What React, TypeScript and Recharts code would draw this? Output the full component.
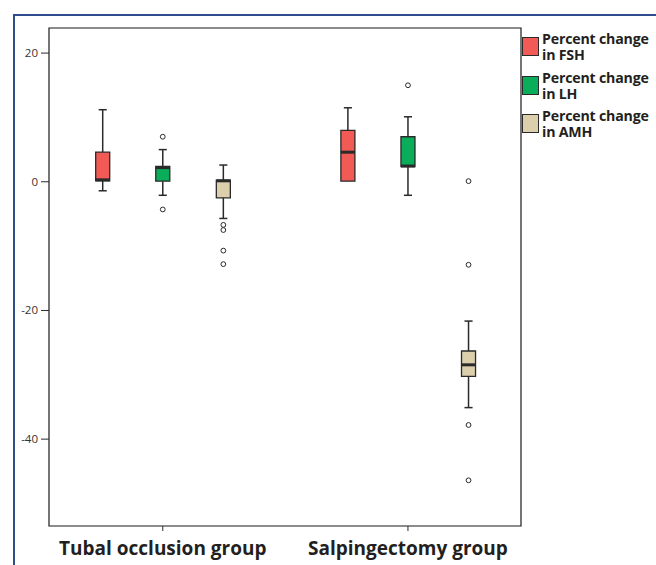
import React from 'react';
import { ComposedChart, XAxis, YAxis, Scatter, ReferenceArea, ReferenceLine } from 'recharts';

// ---- data ----
const groups = ['Tubal occlusion group', 'Salpingectomy group'];
const groupX = [1, 2];
const seriesNames = ['Percent change in FSH', 'Percent change in LH', 'Percent change in AMH'];
const legendLines = [
  ['Percent change', 'in FSH'],
  ['Percent change', 'in LH'],
  ['Percent change', 'in AMH'],
];
const seriesColors = ['#f25a55', '#0aae5a', '#dccfac'];
const yTicks = [-40, -20, 0, 20];

// [min, q1, median, q3, max] per group
const fshBoxes = [
  [-1.4, 0.15, 0.3, 4.6, 11.2],
  [0.1, 0.1, 4.6, 8.0, 11.5],
];
const lhBoxes = [
  [-2.1, 0.1, 2.2, 2.4, 5.0],
  [-2.1, 2.35, 2.45, 7.0, 10.1],
];
const amhBoxes = [
  [-5.7, -2.5, 0.15, 0.25, 2.6],
  [-35.1, -30.25, -28.45, -26.3, -21.65],
];
const fshOutliers = [[], []];
const lhOutliers = [[7.0, -4.3], [15.0]];
const amhOutliers = [[-6.7, -7.5, -10.7, -12.8], [0.1, -12.9, -37.8, -46.4]];

const allBoxes = [fshBoxes, lhBoxes, amhBoxes];
const allOutliers = [fshOutliers, lhOutliers, amhOutliers];

// ---- layout constants ----
const W = 656;
const H = 565;
const X_DOMAIN: [number, number] = [0.536, 2.461];
const Y_DOMAIN: [number, number] = [-53.5, 23.9];
const OFFSETS = [-0.245, 0, 0.247];
const BOX_HALF = 0.0286;
const CAP_HALF = 0.0165;
const INK = '#2a2a2a';

const XTick = (props: any) => {
  const { x, y, payload } = props;
  const idx = groupX.indexOf(payload.value);
  return (
    <text
      x={x}
      y={y + 22}
      textAnchor="middle"
      fontFamily="'Open Sans', sans-serif"
      fontWeight={700}
      fontSize={19}
      fill="#231f20"
    >
      {groups[idx]}
    </text>
  );
};

const YTick = (props: any) => {
  const { x, y, payload } = props;
  return (
    <text x={x} y={y} dy="0.35em" textAnchor="end" fontFamily="'Open Sans', sans-serif" fontSize={11.5} fill="#333333">
      {payload.value}
    </text>
  );
};

export default function App() {
  const elements: React.ReactNode[] = [];
  allBoxes.forEach((boxes, s) => {
    boxes.forEach((b, g) => {
      const cx = groupX[g] + OFFSETS[s];
      const [mn, q1, md, q3, mx] = b;
      const k = `${s}-${g}`;
      if (mx > q3) {
        elements.push(
          <ReferenceLine key={`wu${k}`} segment={[{ x: cx, y: q3 }, { x: cx, y: mx }]} stroke={INK} strokeWidth={1.5} />,
          <ReferenceLine key={`cu${k}`} segment={[{ x: cx - CAP_HALF, y: mx }, { x: cx + CAP_HALF, y: mx }]} stroke={INK} strokeWidth={1.5} />
        );
      }
      if (mn < q1) {
        elements.push(
          <ReferenceLine key={`wl${k}`} segment={[{ x: cx, y: mn }, { x: cx, y: q1 }]} stroke={INK} strokeWidth={1.5} />,
          <ReferenceLine key={`cl${k}`} segment={[{ x: cx - CAP_HALF, y: mn }, { x: cx + CAP_HALF, y: mn }]} stroke={INK} strokeWidth={1.5} />
        );
      }
      elements.push(
        <ReferenceArea
          key={`b${k}`}
          x1={cx - BOX_HALF}
          x2={cx + BOX_HALF}
          y1={q1}
          y2={q3}
          fill={seriesColors[s]}
          fillOpacity={1}
          stroke={INK}
          strokeWidth={1.3}
        />,
        <ReferenceLine
          key={`m${k}`}
          segment={[{ x: cx - BOX_HALF, y: md }, { x: cx + BOX_HALF, y: md }]}
          stroke={INK}
          strokeWidth={3}
        />
      );
    });
  });

  const outlierData = allOutliers.map((perGroup, s) =>
    perGroup.flatMap((vals, g) => vals.map((v) => ({ x: groupX[g] + OFFSETS[s], y: v })))
  );

  return (
    <div style={{ position: 'absolute', left: 0, top: 0, width: W, height: H, overflow: 'hidden', background: '#fff' }}>
      <div
        style={{
          position: 'absolute',
          left: 13,
          top: 14,
          width: W + 20,
          height: H + 20,
          borderLeft: '2px solid #2f4d8d',
          borderTop: '2px solid #2f4d8d',
        }}
      />
      <div style={{ position: 'absolute', left: 0, top: 0 }}>
        <ComposedChart width={W} height={H} margin={{ top: 28, right: 135, left: 0, bottom: 0 }}>
          <XAxis
            type="number"
            dataKey="x"
            domain={X_DOMAIN}
            ticks={groupX}
            interval={0}
            axisLine={false}
            tickLine={{ stroke: INK }}
            tickSize={5}
            height={39}
            tick={<XTick />}
            allowDataOverflow
          />
          <YAxis
            type="number"
            dataKey="y"
            domain={Y_DOMAIN}
            ticks={yTicks}
            interval={0}
            axisLine={false}
            tickLine={{ stroke: INK }}
            tickSize={8}
            tickMargin={3}
            width={49}
            allowDataOverflow
            tick={<YTick />}
          />
          <ReferenceArea
            x1={X_DOMAIN[0]}
            x2={X_DOMAIN[1]}
            y1={Y_DOMAIN[0]}
            y2={Y_DOMAIN[1]}
            fill="#fff"
            fillOpacity={0}
            stroke="#1a1a1a"
            strokeWidth={1.2}
          />
          {elements}
          {outlierData.map((d, s) => (
            <Scatter
              key={`o${s}`}
              name={seriesNames[s]}
              data={d}
              isAnimationActive={false}
              shape={(p: any) => <circle cx={p.cx} cy={p.cy} r={2.4} fill="#fff" stroke={INK} strokeWidth={1} />}
            />
          ))}
        </ComposedChart>
      </div>
      {legendLines.map((lines, s) => (
        <div key={s} style={{ position: 'absolute', left: 522, top: 31 + s * 38.5 }}>
          <div
            style={{
              position: 'absolute',
              left: 0,
              top: 6,
              width: 15,
              height: 17,
              background: seriesColors[s],
              border: `1px solid ${INK}`,
            }}
          />
          <div
            style={{
              position: 'absolute',
              left: 20,
              top: 0,
              whiteSpace: 'nowrap',
              fontFamily: "'Open Sans', sans-serif",
              fontWeight: 700,
              fontSize: 14.2,
              letterSpacing: '-0.2px',
              lineHeight: '16px',
              color: '#231f20',
            }}
          >
            {lines.map((l, i) => (
              <div key={i}>{l}</div>
            ))}
          </div>
        </div>
      ))}
    </div>
  );
}
